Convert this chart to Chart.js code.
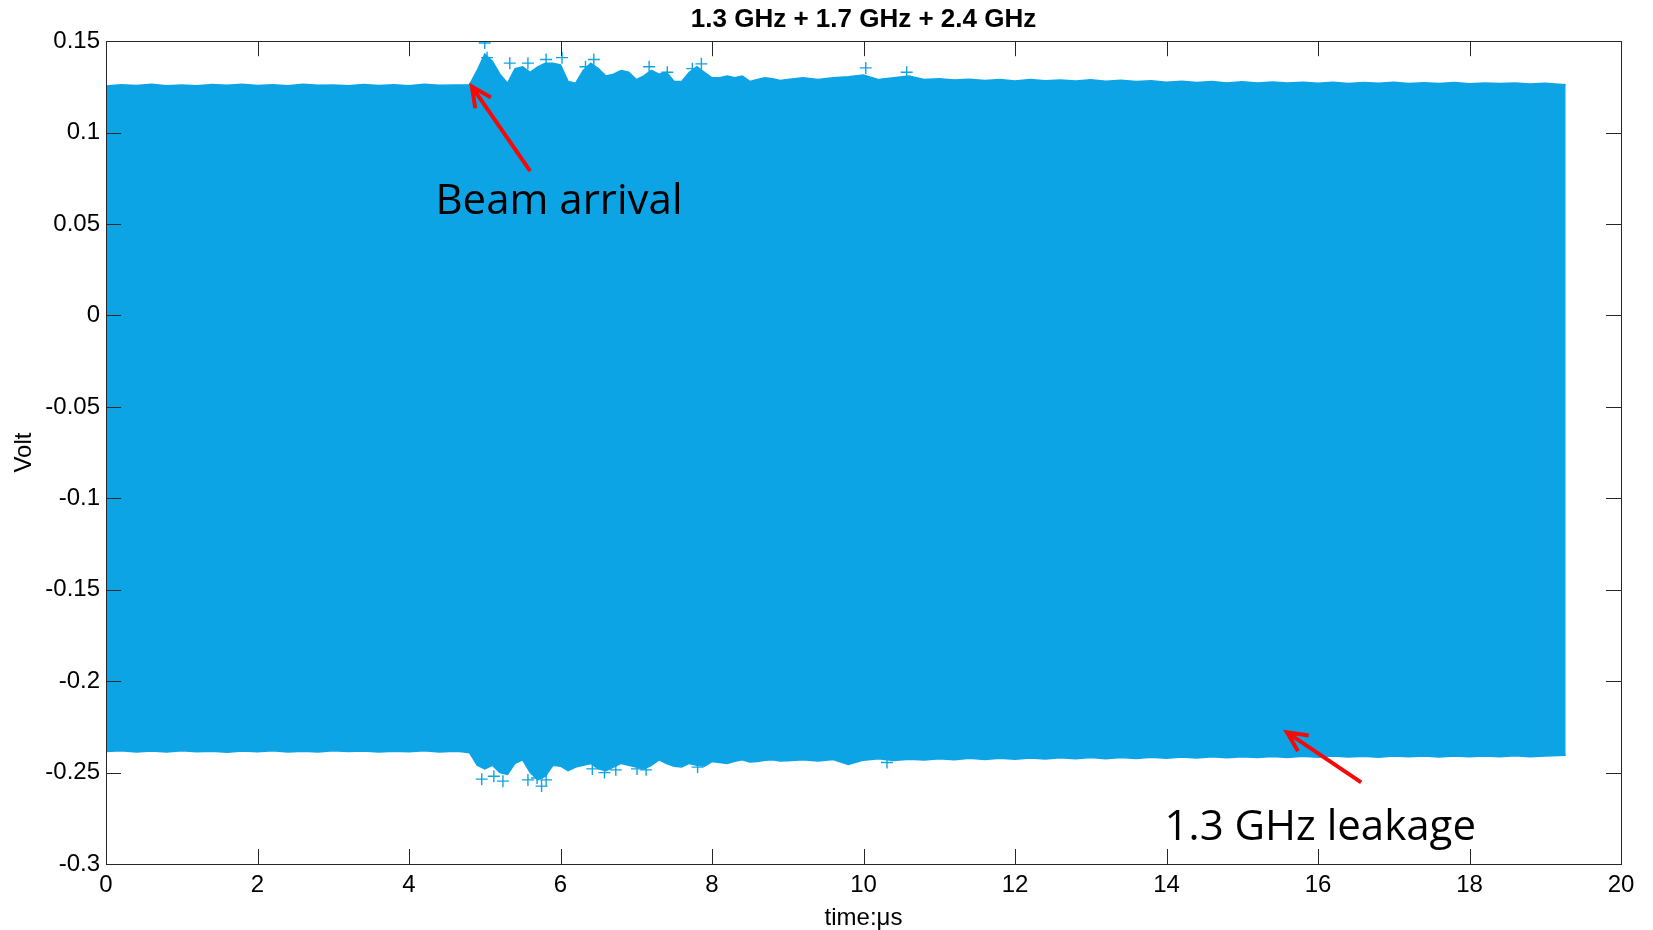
<!DOCTYPE html>
<html>
<head>
<meta charset="utf-8">
<script src="https://cdn.jsdelivr.net/npm/chart.js@4.4.0/dist/chart.umd.min.js"></script>
<style>
  html, body { margin: 0; padding: 0; background: #fff; }
  #wrap { width: 1653px; height: 930px; }
</style>
</head>
<body>
<div id="wrap"><canvas id="waveChart" width="1653" height="930"></canvas></div>
<script>
// time axis samples (µs)
var times = [
  0, 0.2, 0.4, 0.6, 0.8, 1.0, 1.2, 1.4, 1.6, 1.8, 2.0, 2.2, 2.4, 2.6, 2.8, 3.0,
  3.2, 3.4, 3.6, 3.8, 4.0, 4.2, 4.4, 4.6,
  4.7, 4.8, 4.9, 5.0, 5.1, 5.2, 5.3, 5.4, 5.5, 5.6, 5.7, 5.8, 5.9, 6.0, 6.1, 6.2,
  6.3, 6.4, 6.5, 6.6, 6.7, 6.8, 6.9, 7.0, 7.1, 7.2, 7.3, 7.4, 7.5, 7.6, 7.7, 7.8,
  7.9, 8.0, 8.1, 8.2, 8.3, 8.4, 8.5, 8.6, 8.7, 8.8, 8.9, 9.0,
  9.2, 9.4, 9.6, 9.8, 10.0, 10.2, 10.4, 10.6, 10.8, 11.0, 11.2, 11.4, 11.6, 11.8,
  12.0, 12.2, 12.4, 12.6, 12.8, 13.0, 13.2, 13.4, 13.6, 13.8, 14.0, 14.2, 14.4,
  14.6, 14.8, 15.0, 15.2, 15.4, 15.6, 15.8, 16.0, 16.2, 16.4, 16.6, 16.8, 17.0,
  17.2, 17.4, 17.6, 17.8, 18.0, 18.2, 18.4, 18.6, 18.8, 19.0, 19.27
];

// upper edge of the signal (Volt)
var upperEnvelope = [
  0.1255, 0.1262, 0.1258, 0.1264, 0.1257, 0.1261, 0.1256, 0.1263, 0.1259, 0.1265,
  0.1258, 0.1262, 0.1257, 0.1264, 0.1259, 0.1261, 0.1256, 0.1263, 0.1258, 0.1262,
  0.1257, 0.1264, 0.1259, 0.1261,
  0.1260, 0.1262, 0.1340, 0.1430, 0.1390, 0.1320, 0.1270, 0.1350, 0.1360, 0.1330,
  0.1360, 0.1380, 0.1380, 0.1370, 0.1280, 0.1270, 0.1340, 0.1380, 0.1350, 0.1310,
  0.1320, 0.1340, 0.1330, 0.1290, 0.1310, 0.1340, 0.1320, 0.1330, 0.1280, 0.1280,
  0.1330, 0.1360, 0.1330, 0.1300, 0.1300, 0.1310, 0.1300, 0.1310, 0.1280, 0.1290,
  0.1300, 0.1295, 0.1285, 0.1290,
  0.1300, 0.1290, 0.1300, 0.1305, 0.1315, 0.1290, 0.1300, 0.1310, 0.1290, 0.1295,
  0.1288, 0.1292, 0.1285, 0.1290, 0.1283, 0.1291, 0.1284, 0.1288, 0.1282, 0.1289,
  0.1281, 0.1287, 0.1280, 0.1284, 0.1276, 0.1281, 0.1274, 0.1279, 0.1272, 0.1278,
  0.1271, 0.1277, 0.1272, 0.1276, 0.1270, 0.1275, 0.1269, 0.1274, 0.1270, 0.1276,
  0.1269, 0.1273, 0.1268, 0.1274, 0.1267, 0.1272, 0.1268, 0.1271, 0.1266, 0.1270,
  0.1262
];

// lower edge of the signal (Volt)
var lowerEnvelope = [
  -0.2385, -0.2380, -0.2387, -0.2382, -0.2388, -0.2381, -0.2386, -0.2383, -0.2389, -0.2382,
  -0.2386, -0.2380, -0.2387, -0.2383, -0.2388, -0.2381, -0.2385, -0.2382, -0.2387, -0.2383,
  -0.2386, -0.2381, -0.2388, -0.2384,
  -0.2386, -0.2392, -0.2460, -0.2480, -0.2460, -0.2500, -0.2510, -0.2450, -0.2430, -0.2500,
  -0.2540, -0.2520, -0.2460, -0.2465, -0.2490, -0.2470, -0.2460, -0.2450, -0.2480, -0.2490,
  -0.2470, -0.2450, -0.2460, -0.2470, -0.2480, -0.2460, -0.2430, -0.2450, -0.2465, -0.2470,
  -0.2450, -0.2460, -0.2465, -0.2440, -0.2445, -0.2450, -0.2438, -0.2430, -0.2442, -0.2440,
  -0.2433, -0.2430, -0.2437, -0.2435,
  -0.2430, -0.2436, -0.2428, -0.2455, -0.2432, -0.2425, -0.2434, -0.2427, -0.2431, -0.2424,
  -0.2430, -0.2422, -0.2428, -0.2421, -0.2427, -0.2420, -0.2426, -0.2419, -0.2425, -0.2418,
  -0.2424, -0.2417, -0.2423, -0.2416, -0.2421, -0.2415, -0.2420, -0.2414, -0.2419, -0.2413,
  -0.2418, -0.2412, -0.2417, -0.2411, -0.2416, -0.2410, -0.2415, -0.2411, -0.2416, -0.2410,
  -0.2414, -0.2409, -0.2415, -0.2410, -0.2414, -0.2409, -0.2413, -0.2408, -0.2413, -0.2409,
  -0.2405
];

// single '+' samples that stick out of the envelope after the beam arrives
var peakTimes = [
  5.00, 5.03, 5.33, 5.57, 5.81, 6.02, 6.33, 6.44, 7.17, 7.41, 7.74, 7.86, 10.03, 10.57,
  4.96, 5.12, 5.24, 5.57, 5.69, 5.75, 5.81, 6.42, 6.58, 6.73, 7.01, 7.13, 7.81, 10.31
];
var peakVolts = [
  0.149, 0.141, 0.138, 0.138, 0.140, 0.141, 0.136, 0.140, 0.136, 0.133, 0.135, 0.1376, 0.1354, 0.133,
  -0.2536, -0.252, -0.2547, -0.254, -0.253, -0.2574, -0.254, -0.248, -0.250, -0.2485, -0.248, -0.2485, -0.247, -0.2445
];

var xTicks = [0, 2, 4, 6, 8, 10, 12, 14, 16, 18, 20];
var xTickLabels = ['0', '2', '4', '6', '8', '10', '12', '14', '16', '18', '20'];
var yTicks = [-0.3, -0.25, -0.2, -0.15, -0.1, -0.05, 0, 0.05, 0.1, 0.15];
var yTickLabels = ['-0.3', '-0.25', '-0.2', '-0.15', '-0.1', '-0.05', '0', '0.05', '0.1', '0.15'];

var chartTitle = '1.3 GHz + 1.7 GHz + 2.4 GHz';
var xTitle = 'time:\u03bcs';
var yTitle = 'Volt';

// arrow annotations, anchored in data coordinates
var notes = [
  { text: 'Beam arrival', tip: [4.83, 0.1252], tail: [5.60, 0.079], at: [5.98, 0.0623] },
  { text: '1.3 GHz leakage', tip: [15.59, -0.228], tail: [16.57, -0.2554], at: [16.03, -0.2803] }
];

var waveColor = 'rgb(13, 164, 230)';
var axisColor = '#262626';

function pairs(xs, ys) {
  return xs.map(function (x, i) { return { x: x, y: ys[i] }; });
}

var matlabBox = {
  id: 'matlabBox',
  afterDatasetsDraw: function (chart) {
    var ctx = chart.ctx, a = chart.chartArea;
    var xs = chart.scales.x, ys = chart.scales.y;
    var len = 15;
    ctx.save();
    ctx.strokeStyle = axisColor;
    ctx.lineWidth = 1;
    ctx.beginPath();
    xTicks.forEach(function (t) {
      var px = Math.round(xs.getPixelForValue(t)) + 0.5;
      ctx.moveTo(px, a.bottom); ctx.lineTo(px, a.bottom - len);
      ctx.moveTo(px, a.top); ctx.lineTo(px, a.top + len);
    });
    yTicks.forEach(function (v) {
      var py = Math.round(ys.getPixelForValue(v)) + 0.5;
      ctx.moveTo(a.left, py); ctx.lineTo(a.left + len, py);
      ctx.moveTo(a.right, py); ctx.lineTo(a.right - len, py);
    });
    ctx.stroke();
    ctx.strokeRect(Math.round(a.left) + 0.5, Math.round(a.top) + 0.5,
      Math.round(a.right - a.left), Math.round(a.bottom - a.top));
    ctx.restore();
  }
};

var arrows = {
  id: 'arrows',
  afterDraw: function (chart) {
    var ctx = chart.ctx;
    var xs = chart.scales.x, ys = chart.scales.y;
    ctx.save();
    notes.forEach(function (n) {
      var x1 = xs.getPixelForValue(n.tail[0]), y1 = ys.getPixelForValue(n.tail[1]);
      var x2 = xs.getPixelForValue(n.tip[0]), y2 = ys.getPixelForValue(n.tip[1]);
      var ang = Math.atan2(y2 - y1, x2 - x1);
      var head = 22;
      ctx.strokeStyle = 'rgb(245, 10, 10)';
      ctx.lineWidth = 4;
      ctx.lineCap = 'butt';
      ctx.beginPath();
      ctx.moveTo(x1, y1);
      ctx.lineTo(x2, y2);
      ctx.moveTo(x2 - head * Math.cos(ang - 0.45), y2 - head * Math.sin(ang - 0.45));
      ctx.lineTo(x2, y2);
      ctx.lineTo(x2 - head * Math.cos(ang + 0.45), y2 - head * Math.sin(ang + 0.45));
      ctx.stroke();

      ctx.fillStyle = '#000';
      ctx.font = '42px "Open Sans", "Noto Sans", sans-serif';
      ctx.textAlign = 'center';
      ctx.textBaseline = 'middle';
      ctx.fillText(n.text, xs.getPixelForValue(n.at[0]), ys.getPixelForValue(n.at[1]));
    });
    ctx.restore();
  }
};

var ctx = document.getElementById('waveChart').getContext('2d');
var chart = new Chart(ctx, {
  type: 'line',
  data: {
    datasets: [
      {
        label: 'upper',
        data: pairs(times, upperEnvelope),
        borderColor: waveColor,
        borderWidth: 1.5,
        pointRadius: 0,
        tension: 0,
        fill: false
      },
      {
        label: 'lower',
        data: pairs(times, lowerEnvelope),
        borderColor: waveColor,
        backgroundColor: waveColor,
        borderWidth: 1.5,
        pointRadius: 0,
        tension: 0,
        fill: '-1'
      },
      {
        label: 'peaks',
        data: pairs(peakTimes, peakVolts),
        showLine: false,
        borderColor: waveColor,
        borderWidth: 1.4,
        pointStyle: 'cross',
        pointRadius: 6,
        fill: false
      }
    ]
  },
  options: {
    responsive: false,
    animation: false,
    layout: { padding: { left: 0, right: 32, top: 0, bottom: 0 } },
    plugins: {
      legend: { display: false },
      tooltip: { enabled: false },
      title: {
        display: true,
        fullSize: false,
        text: chartTitle,
        color: '#000',
        font: { family: '"Liberation Sans", Arial, sans-serif', size: 26, weight: 'bold' },
        padding: { top: 4, bottom: 6 }
      }
    },
    scales: {
      x: {
        type: 'linear',
        min: 0,
        max: 20,
        grid: { display: false, drawTicks: false },
        border: { display: false },
        afterBuildTicks: function (scale) {
          scale.ticks = xTicks.map(function (v) { return { value: v }; });
        },
        afterFit: function (scale) { scale.height = 66; },
        ticks: {
          padding: 7,
          maxRotation: 0,
          color: '#000',
          font: { family: '"Liberation Sans", Arial, sans-serif', size: 24 },
          callback: function (value, index) { return xTickLabels[index]; }
        },
        title: {
          display: true,
          text: xTitle,
          color: '#000',
          font: { family: '"Liberation Sans", Arial, sans-serif', size: 24 },
          padding: { top: 0, bottom: -3 }
        }
      },
      y: {
        min: -0.3,
        max: 0.15,
        grid: { display: false, drawTicks: false },
        border: { display: false },
        afterBuildTicks: function (scale) {
          scale.ticks = yTicks.map(function (v) { return { value: v }; });
        },
        afterFit: function (scale) { scale.width = 106; },
        ticks: {
          padding: 6,
          color: '#000',
          font: { family: '"Liberation Sans", Arial, sans-serif', size: 24 },
          callback: function (value, index) { return yTickLabels[index]; }
        },
        title: {
          display: true,
          text: yTitle,
          color: '#000',
          font: { family: '"Liberation Sans", Arial, sans-serif', size: 24 },
          padding: { top: 10, bottom: 0 }
        }
      }
    }
  },
  plugins: [matlabBox, arrows]
});
</script>
</body>
</html>
